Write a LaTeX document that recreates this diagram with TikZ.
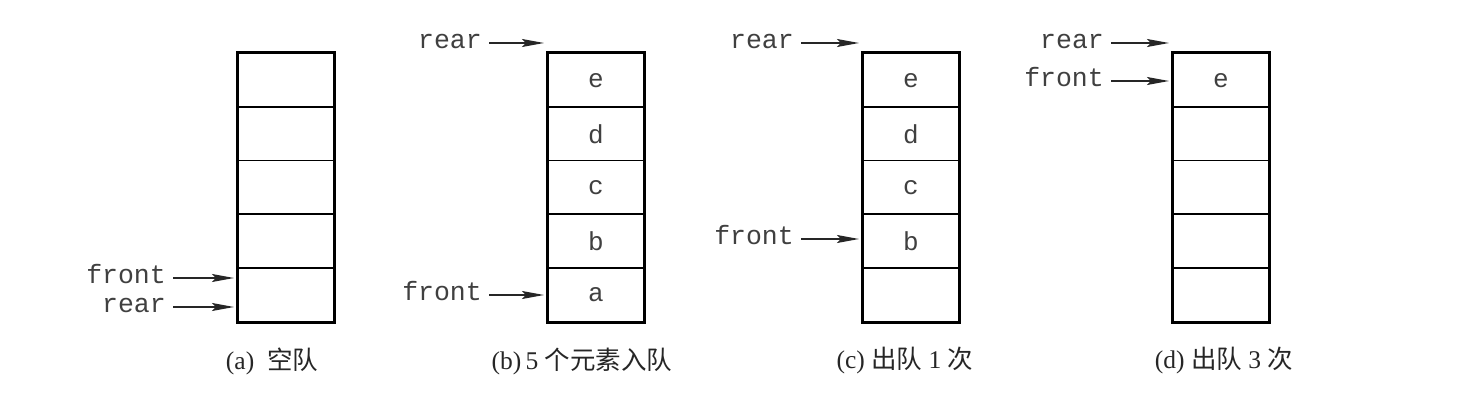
\documentclass[tikz,border=0pt]{standalone}
\usepackage{fontspec}
\setmainfont{Liberation Serif}
\setmonofont{Liberation Mono}
\newfontfamily\cjk{Noto Sans CJK SC}
\usetikzlibrary{arrows.meta}
\begin{document}
\begin{tikzpicture}[x=1pt,y=-1pt,
  cellbox/.style={draw=black, line width=1.7pt, minimum width=96pt, minimum height=53.6pt,
     inner sep=0pt, font=\fontsize{26}{26}\ttfamily, text=black!75, anchor=north west},
  outerbox/.style={draw=black, line width=2.8pt},
  ptrlabel/.style={inner sep=0pt, anchor=base east, font=\fontsize{26.5}{26}\ttfamily, text=black!75},
  ptr/.style={-{Stealth[length=22pt,width=8pt,inset=4pt]}, line width=1.5pt, black!85, shorten <=7pt, shorten >=3pt},
  caption/.style={inner sep=0pt, font=\fontsize{25.5}{26}\selectfont, text=black!85}
]
\useasboundingbox[fill=white] (0,0) rectangle (1478,406);

% ---------- (a) ----------
\foreach \i in {1,...,5}{
  \node[cellbox] (a\i) at (237,{52.5+(\i-1)*53.6}) {};
}
\draw[outerbox] (a1.north west) rectangle (a5.south east);
\node[ptrlabel] (afront) at (166,283.5) {front};
\node[ptrlabel] (arear) at (166,312.5) {rear};
\coordinate (afrontT) at (a5.west |- 0,278);
\coordinate (arearT) at (a5.west |- 0,307);
\draw[ptr] (afront.east |- afrontT) -- (afrontT);
\draw[ptr] (arear.east |- arearT) -- (arearT);
\node[caption] (capa) at (272,361) {(a)\ \ {\cjk 空队}};

% ---------- (b) ----------
\foreach \i/\t in {1/e,2/d,3/c,4/b,5/a}{
  \node[cellbox] (b\i) at (547,{52.5+(\i-1)*53.6}) {\t};
}
\draw[outerbox] (b1.north west) rectangle (b5.south east);
\node[ptrlabel] (brear) at (482,48.5) {rear};
\node[ptrlabel] (bfront) at (482,300.5) {front};
\coordinate (brearT) at (b1.west |- 0,43);
\coordinate (bfrontT) at (b5.west |- 0,295);
\draw[ptr] (brear.east |- brearT) -- (brearT);
\draw[ptr] (bfront.east |- bfrontT) -- (bfrontT);
\node[caption] (capb) at (582,361) {(b)\,5 {\cjk 个元素入队}};

% ---------- (c) ----------
\foreach \i/\t in {1/e,2/d,3/c,4/b,5/{}}{
  \node[cellbox] (c\i) at (862,{52.5+(\i-1)*53.6}) {\t};
}
\draw[outerbox] (c1.north west) rectangle (c5.south east);
\node[ptrlabel] (crear) at (794,48.5) {rear};
\node[ptrlabel] (cfront) at (794,244.5) {front};
\coordinate (crearT) at (c1.west |- 0,43);
\coordinate (cfrontT) at (c4.west |- 0,239);
\draw[ptr] (crear.east |- crearT) -- (crearT);
\draw[ptr] (cfront.east |- cfrontT) -- (cfrontT);
\node[caption] (capc) at (905,361) {(c)\ {\cjk 出队} 1 {\cjk 次}};

% ---------- (d) ----------
\foreach \i/\t in {1/e,2/{},3/{},4/{},5/{}}{
  \node[cellbox] (d\i) at (1172,{52.5+(\i-1)*53.6}) {\t};
}
\draw[outerbox] (d1.north west) rectangle (d5.south east);
\node[ptrlabel] (drear) at (1104,48.5) {rear};
\node[ptrlabel] (dfront) at (1104,86.5) {front};
\coordinate (drearT) at (d1.west |- 0,43);
\coordinate (dfrontT) at (d1.west |- 0,81);
\draw[ptr] (drear.east |- drearT) -- (drearT);
\draw[ptr] (dfront.east |- dfrontT) -- (dfrontT);
\node[caption] (capd) at (1224,361) {(d)\ {\cjk 出队} 3 {\cjk 次}};
\end{tikzpicture}
\end{document}
